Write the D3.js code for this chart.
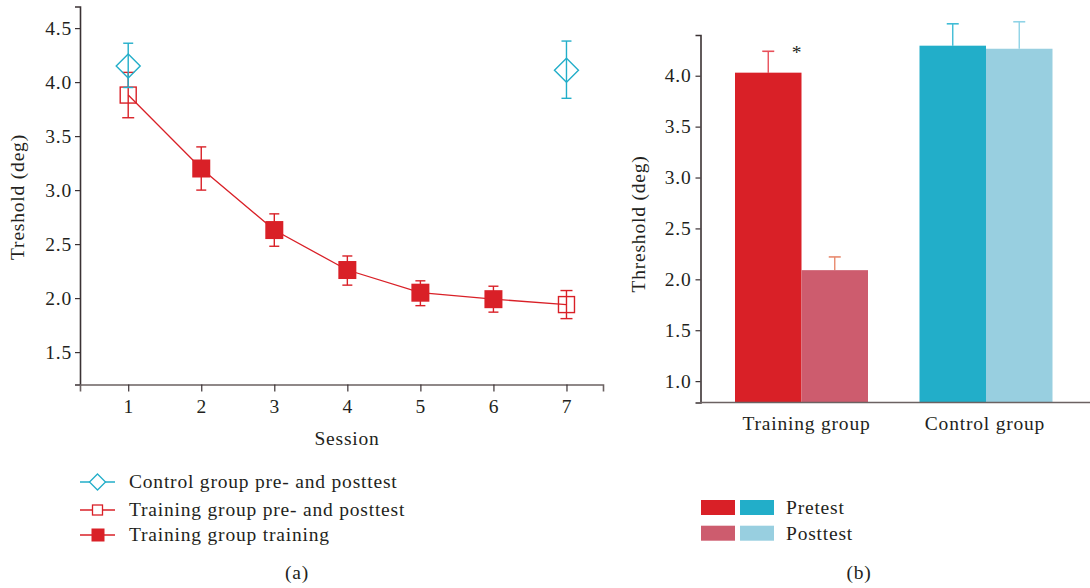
<!DOCTYPE html>
<html><head><meta charset="utf-8">
<script src="https://cdn.jsdelivr.net/npm/d3@7"></script>
<style>
body{margin:0;background:#fff;}
svg text{font-family:"Liberation Serif","DejaVu Serif",serif;fill:#231f20;}
</style></head>
<body>
<svg id="c" width="1090" height="588"></svg>
<script>
// ---- Panel (a) data ----
const sessions = [1,2,3,4,5,6,7];
const controlSessions = [1,7];
const controlMean = [4.15, 4.11];
const controlHi = [4.36, 4.38];
const controlLo = [3.95, 3.85];
const trainPPSessions = [1,7];
const trainPPMean = [3.88, 1.94];
const trainPPHi = [4.09, 2.07];
const trainPPLo = [3.67, 1.81];
const trainSessions = [2,3,4,5,6];
const trainMean = [3.20, 2.63, 2.26, 2.05, 1.99];
const trainHi = [3.40, 2.78, 2.39, 2.16, 2.11];
const trainLo = [3.00, 2.48, 2.12, 1.93, 1.87];
const lineMean = [3.88, 3.20, 2.63, 2.26, 2.05, 1.99, 1.94];
const yTicksA = [1.5, 2.0, 2.5, 3.0, 3.5, 4.0, 4.5];
const legendA = ["Control group pre- and posttest","Training group pre- and posttest","Training group training"];

// ---- Panel (b) data ----
const groups = ["Training group","Control group"];
const phases = ["Pretest","Posttest"];
const preValues = [4.03, 4.295];
const preErr = [0.21, 0.215];
const postValues = [2.09, 4.265];
const postErr = [0.13, 0.265];
const yTicksB = [1.0, 1.5, 2.0, 2.5, 3.0, 3.5, 4.0];

const RED = "#d92027", CYAN = "#22aec9", PINK = "#cd5c6e", LBLUE = "#98cfe0";
const AX = "#3b3234";
const FS = "19.5px", LS = "0.8px";

const svg = d3.select("#c");
function txt(sel){ return sel.style("font-size",FS).style("letter-spacing",LS); }

// ===== Panel (a) =====
const xA = d3.scaleLinear().domain([0.34, 7.5]).range([80, 603]);
const yA = d3.scaleLinear().domain([1.2, 4.7]).range([384.5, 6.5]);

const gA = svg.append("g");
const yAxA = gA.append("g").attr("transform","translate(80,0)")
  .call(d3.axisLeft(yA).tickValues(yTicksA).tickFormat(d3.format(".1f")).tickSize(5).tickPadding(3));
const xAxA = gA.append("g").attr("transform","translate(0,384.5)")
  .call(d3.axisBottom(xA).tickValues(sessions).tickFormat(d3.format("d")).tickSize(7).tickPadding(8));
[yAxA,xAxA].forEach(a=>{
  a.select(".domain").attr("stroke",AX).attr("stroke-width",1.6);
  a.selectAll(".tick line").attr("stroke",AX).attr("stroke-width",1.2);
  txt(a.selectAll("text")).attr("fill","#231f20").style("font-family","'Liberation Serif',serif");
});
xAxA.select(".domain").attr("stroke","#6b6262");

txt(gA.append("text").attr("transform","translate(24,197) rotate(-90)").attr("text-anchor","middle")).text("Treshold (deg)");
txt(gA.append("text").attr("x",347).attr("y",445).attr("text-anchor","middle")).text("Session");

// line
gA.append("path").datum(sessions.map((s,i)=>[s,lineMean[i]]))
  .attr("fill","none").attr("stroke",RED).attr("stroke-width",1.3)
  .attr("d", d3.line().x(d=>xA(d[0])).y(d=>yA(d[1])));

function errBar(g, x, lo, hi, color, cap){
  g.append("line").attr("x1",x).attr("x2",x).attr("y1",yA(lo)).attr("y2",yA(hi)).attr("stroke",color).attr("stroke-width",1.4);
  [lo,hi].forEach(v=>g.append("line").attr("x1",x-cap).attr("x2",x+cap).attr("y1",yA(v)).attr("y2",yA(v)).attr("stroke",color).attr("stroke-width",1.4));
}
trainSessions.forEach((s,i)=>{
  errBar(gA, xA(s), trainLo[i], trainHi[i], RED, 5);
  gA.append("rect").attr("x",xA(s)-9).attr("y",yA(trainMean[i])-9).attr("width",18).attr("height",18).attr("fill",RED);
});
trainPPSessions.forEach((s,i)=>{
  errBar(gA, xA(s), trainPPLo[i], trainPPHi[i], RED, 6);
  gA.append("rect").attr("x",xA(s)-8).attr("y",yA(trainPPMean[i])-8).attr("width",16).attr("height",16)
    .attr("fill","none").attr("stroke",RED).attr("stroke-width",1.4);
});
const diamond = (cx,cy,r)=>`M${cx},${cy-r}L${cx+r},${cy}L${cx},${cy+r}L${cx-r},${cy}Z`;
controlSessions.forEach((s,i)=>{
  errBar(gA, xA(s), controlLo[i], controlHi[i], CYAN, 5);
  gA.append("path").attr("d",diamond(xA(s),yA(controlMean[i]),12)).attr("fill","none").attr("stroke",CYAN).attr("stroke-width",1.4);
});

// legend a
const legA = gA.append("g");
const legY = [482, 510, 535];
legendA.forEach((t,i)=>{
  const y = legY[i];
  const col = i===0?CYAN:RED;
  legA.append("line").attr("x1",80).attr("x2",115).attr("y1",y).attr("y2",y).attr("stroke",col).attr("stroke-width",1.3);
  if(i===0) legA.append("path").attr("d",diamond(97.5,y,8)).attr("fill","#fff").attr("stroke",col).attr("stroke-width",1.3);
  if(i===1) legA.append("rect").attr("x",92.5).attr("y",y-5).attr("width",10).attr("height",10).attr("fill","#fff").attr("stroke",col).attr("stroke-width",1.3);
  if(i===2) legA.append("rect").attr("x",91.5).attr("y",y-6.5).attr("width",13).attr("height",13).attr("fill",col);
  txt(legA.append("text").attr("x",129).attr("y",y+5.5)).text(t);
});
txt(svg.append("text").attr("x",297).attr("y",579).attr("text-anchor","middle")).text("(a)");

// ===== Panel (b) =====
const yB = d3.scaleLinear().domain([0.79, 4.4]).range([402.5, 35]);
const gB = svg.append("g");
const yAxB = gB.append("g").attr("transform","translate(700.5,0)")
  .call(d3.axisLeft(yB).tickValues(yTicksB).tickFormat(d3.format(".1f")).tickSize(5).tickPadding(4));
yAxB.select(".domain").attr("stroke",AX).attr("stroke-width",1.6);
yAxB.selectAll(".tick line").attr("stroke",AX).attr("stroke-width",1.2);
txt(yAxB.selectAll("text")).attr("fill","#231f20").style("font-family","'Liberation Serif',serif");

const groupCenters = d3.scaleOrdinal().domain(groups).range([801.5, 986]);
const barW = 66.5;
const colors = [[RED,PINK],[CYAN,LBLUE]];
const errColors = [["#e8505a","#e88a6e"],["#3fbcd6","#8fd3e6"]];
groups.forEach((g,gi)=>{
  const vals = [preValues[gi], postValues[gi]];
  const errs = [preErr[gi], postErr[gi]];
  vals.forEach((v,pi)=>{
    const x = groupCenters(g) + (pi===0?-barW:0);
    const cx = x + barW/2;
    gB.append("line").attr("x1",cx).attr("x2",cx).attr("y1",yB(v)).attr("y2",yB(v+errs[pi])).attr("stroke",errColors[gi][pi]).attr("stroke-width",1.4);
    gB.append("line").attr("x1",cx-6).attr("x2",cx+6).attr("y1",yB(v+errs[pi])).attr("y2",yB(v+errs[pi])).attr("stroke",errColors[gi][pi]).attr("stroke-width",1.6);
    gB.append("rect").attr("x",x).attr("y",yB(v)).attr("width",barW).attr("height",yB(0.79)-yB(v)).attr("fill",colors[gi][pi]);
  });
  txt(gB.append("text").attr("x",groupCenters(g)+ (gi===0?5:-1)).attr("y",430).attr("text-anchor","middle")).text(g);
});
gB.append("line").attr("x1",700).attr("x2",1090).attr("y1",402.5).attr("y2",402.5).attr("stroke","#6b6262").attr("stroke-width",1.6);
txt(gB.append("text").attr("x",797).attr("y",59).attr("text-anchor","middle")).text("*");
txt(gB.append("text").attr("transform","translate(645,224) rotate(-90)").attr("text-anchor","middle")).text("Threshold (deg)");

// legend b
const legB = gB.append("g");
phases.forEach((p,i)=>{
  const y = 500 + i*25.7;
  legB.append("rect").attr("x",701).attr("y",y).attr("width",34).attr("height",15).attr("fill",colors[0][i]);
  legB.append("rect").attr("x",740).attr("y",y).attr("width",34).attr("height",15).attr("fill",colors[1][i]);
  txt(legB.append("text").attr("x",786).attr("y",y+14)).text(p);
});
txt(svg.append("text").attr("x",859).attr("y",579).attr("text-anchor","middle")).text("(b)");
</script>
</body></html>
